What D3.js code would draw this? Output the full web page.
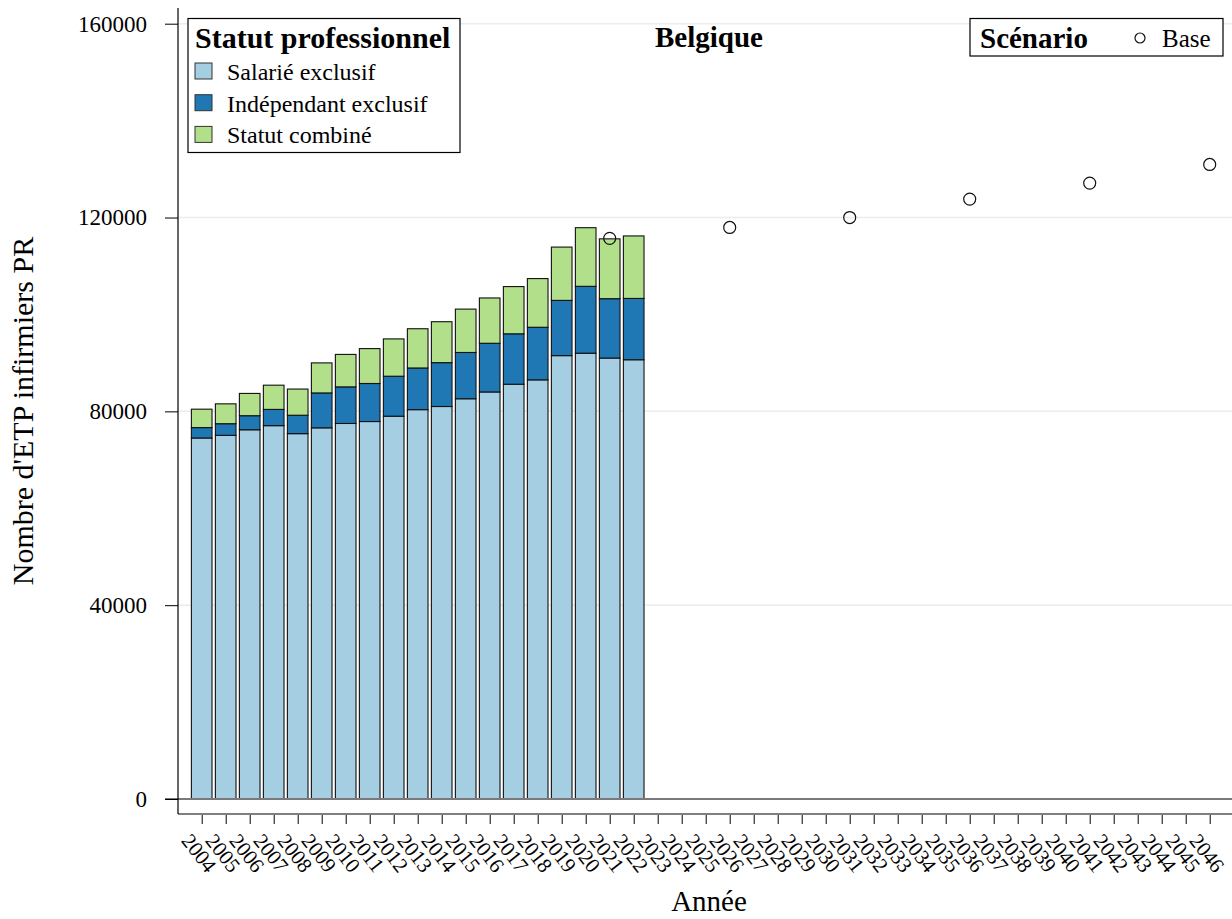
<!DOCTYPE html>
<html>
<head>
<meta charset="utf-8">
<script src="https://cdn.jsdelivr.net/npm/d3@7"></script>
<style>
  body { margin: 0; background: #fff; }
  svg { font-family: "Liberation Serif", "Times New Roman", serif; }
</style>
</head>
<body>
<div id="chart"></div>
<script>
// data
var years = d3.range(2004, 2047);
var barYears = [2004, 2005, 2006, 2007, 2008, 2009, 2010, 2011, 2012, 2013,
  2014, 2015, 2016, 2017, 2018, 2019, 2020, 2021, 2022];
var salarie = [74500, 75050, 76200, 77050, 75400, 76600, 77500, 77900, 79000, 80350,
  81000, 82600, 84000, 85600, 86500, 91500, 92000, 91000, 90650];
var independant = [2150, 2400, 2900, 3350, 3800, 7200, 7550, 7850, 8250, 8600,
  9050, 9550, 10050, 10400, 10850, 11400, 13800, 12250, 12650];
var combine = [3800, 4100, 4600, 5000, 5400, 6200, 6700, 7200, 7700, 8100,
  8450, 8950, 9350, 9750, 10050, 11000, 12100, 12350, 12900];
var baseYears = [2021, 2026, 2031, 2036, 2041, 2046];
var baseValues = [115700, 117950, 120000, 123800, 127100, 130950];
var yTicks = [0, 40000, 80000, 120000, 160000];
var statusNames = ["Salarié exclusif", "Indépendant exclusif", "Statut combiné"];
var statusColors = ["#a6cee3", "#1f78b4", "#b2df8a"];

var width = 1232, height = 919;
var axisX = 178, axisY = 814;

var svg = d3.select("#chart").append("svg")
  .attr("width", width)
  .attr("height", height);

var x = d3.scalePoint()
  .domain(years)
  .range([201.7, 1209.7]);
var barW = x.step() * 0.86;

var y = d3.scaleLinear()
  .domain([0, 160000])
  .range([799, 23.7]);

// grid lines
svg.append("g")
  .selectAll("line")
  .data(yTicks.filter(d => d > 0))
  .join("line")
  .attr("x1", axisX)
  .attr("x2", width)
  .attr("y1", d => y(d))
  .attr("y2", d => y(d))
  .attr("stroke", "#ececec")
  .attr("stroke-width", 1.5);

// stacked bars
var rows = barYears.map((yr, i) => ({ year: yr, s0: salarie[i], s1: independant[i], s2: combine[i] }));
var stack = d3.stack().keys(["s0", "s1", "s2"])(rows);

svg.append("g")
  .selectAll("g")
  .data(stack)
  .join("g")
  .attr("fill", (d, i) => statusColors[i])
  .selectAll("rect")
  .data(d => d)
  .join("rect")
  .attr("x", d => x(d.data.year) - barW / 2)
  .attr("width", barW)
  .attr("y", d => y(d[1]))
  .attr("height", d => y(d[0]) - y(d[1]))
  .attr("stroke", "#111")
  .attr("stroke-width", 1.1);

// zero line
svg.append("line")
  .attr("x1", 165)
  .attr("x2", width)
  .attr("y1", y(0))
  .attr("y2", y(0))
  .attr("stroke", "#7a7a7a")
  .attr("stroke-width", 2);

// scenario points
svg.append("g")
  .selectAll("circle")
  .data(baseYears.map((yr, i) => ({ year: yr, value: baseValues[i] })))
  .join("circle")
  .attr("cx", d => x(d.year))
  .attr("cy", d => y(d.value))
  .attr("r", 6)
  .attr("fill", "none")
  .attr("stroke", "#111")
  .attr("stroke-width", 1.2);

// axes
var yAxis = d3.axisLeft(y).tickValues(yTicks).tickSize(13).tickPadding(18).tickFormat(d3.format("d"));
var gy = svg.append("g").attr("transform", `translate(${axisX},0)`).call(yAxis);
gy.select(".domain").remove();
gy.selectAll("text").attr("font-size", 23).attr("font-family", "Liberation Serif").attr("fill", "#000");
gy.selectAll("line").attr("stroke", "#000");

var xAxis = d3.axisBottom(x).tickSize(9).tickFormat(d => d);
var gx = svg.append("g").attr("transform", `translate(0,${axisY + 1})`).call(xAxis);
gx.select(".domain").remove();
gx.selectAll("line").attr("stroke", "#000");
gx.selectAll("text")
  .attr("font-size", 21)
  .attr("font-family", "Liberation Serif")
  .attr("fill", "#000")
  .attr("text-anchor", "middle")
  .attr("dy", "0.35em")
  .attr("y", 0)
  .attr("transform", "translate(-3,38) rotate(52)");

svg.append("line")
  .attr("x1", axisX).attr("x2", width)
  .attr("y1", axisY).attr("y2", axisY)
  .attr("stroke", "#000").attr("stroke-width", 1.2);
svg.append("line")
  .attr("x1", axisX).attr("x2", axisX)
  .attr("y1", 8).attr("y2", axisY)
  .attr("stroke", "#000").attr("stroke-width", 1.2);

// titles
svg.append("text")
  .attr("x", 709).attr("y", 47)
  .attr("text-anchor", "middle")
  .attr("font-size", 29)
  .attr("font-weight", "bold")
  .text("Belgique");

svg.append("text")
  .attr("x", 709).attr("y", 911)
  .attr("text-anchor", "middle")
  .attr("font-size", 29)
  .text("Année");

svg.append("text")
  .attr("transform", "translate(33,411) rotate(-90)")
  .attr("text-anchor", "middle")
  .attr("font-size", 30)
  .text("Nombre d'ETP infirmiers PR");

// status legend
var leg = svg.append("g");
leg.append("rect")
  .attr("x", 188).attr("y", 18.5)
  .attr("width", 272).attr("height", 134)
  .attr("fill", "#fff").attr("stroke", "#000").attr("stroke-width", 1.2);
leg.append("text")
  .attr("x", 195).attr("y", 48)
  .attr("font-size", 30).attr("font-weight", "bold")
  .text("Statut professionnel");
var items = leg.selectAll("g.item")
  .data(statusNames)
  .join("g")
  .attr("class", "item")
  .attr("transform", (d, i) => `translate(0,${i * 31.7})`);
items.append("rect")
  .attr("x", 195).attr("y", 63)
  .attr("width", 17).attr("height", 16)
  .attr("fill", (d, i) => statusColors[i])
  .attr("stroke", "#333").attr("stroke-width", 1);
items.append("text")
  .attr("x", 227).attr("y", 80)
  .attr("font-size", 24)
  .text(d => d);

// scenario legend
var leg2 = svg.append("g");
leg2.append("rect")
  .attr("x", 970).attr("y", 18.5)
  .attr("width", 253).attr("height", 37.5)
  .attr("fill", "#fff").attr("stroke", "#000").attr("stroke-width", 1.2);
leg2.append("text")
  .attr("x", 980).attr("y", 48)
  .attr("font-size", 29).attr("font-weight", "bold")
  .text("Scénario");
leg2.append("circle")
  .attr("cx", 1140).attr("cy", 38).attr("r", 5)
  .attr("fill", "none").attr("stroke", "#111").attr("stroke-width", 1.2);
leg2.append("text")
  .attr("x", 1162).attr("y", 47)
  .attr("font-size", 25)
  .text("Base");
</script>
</body>
</html>
